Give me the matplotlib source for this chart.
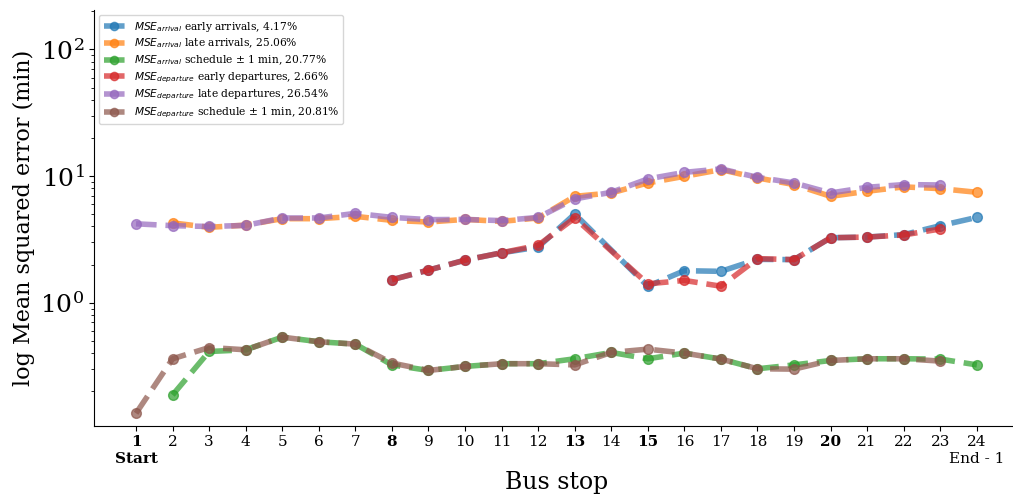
import numpy as np
import matplotlib
matplotlib.use('Agg')
import matplotlib.pyplot as plt

plt.rcParams['font.family'] = 'DejaVu Serif'

# ---------------- donnees ------------------------------------
stops_arr = list(range(2, 25))
stops_dep = list(range(1, 24))
stops_early_arr = [8, 9, 10, 11, 12, 13, 15, 16, 17, 18, 19, 20, 21, 22, 23, 24]
stops_early_dep = [8, 9, 10, 11, 12, 13, 15, 16, 17, 18, 19, 20, 21, 22, 23]

early_arr = [1.52, 1.81, 2.17, 2.48, 2.75, 5.02, 1.35, 1.79, 1.77, 2.2, 2.19, 3.26, 3.3, 3.45, 4.06, 4.72]
late_arr = [4.27, 3.94, 4.1, 4.61, 4.61, 4.81, 4.47, 4.34, 4.55, 4.39, 4.67, 6.92,
            7.36, 8.83, 9.96, 11.25, 9.67, 8.57, 6.92, 7.59, 8.22, 7.96, 7.45]
sched_arr = [0.187, 0.412, 0.425, 0.535, 0.492, 0.471, 0.323, 0.292, 0.314, 0.33, 0.33, 0.361,
             0.405, 0.361, 0.40, 0.359, 0.301, 0.323, 0.35, 0.361, 0.361, 0.359, 0.323]
early_dep = [1.52, 1.81, 2.17, 2.48, 2.84, 4.67, 1.41, 1.5, 1.35, 2.23, 2.19, 3.26, 3.3, 3.43, 3.82]
late_dep = [4.2, 4.06, 4.0, 4.08, 4.67, 4.67, 5.08, 4.72, 4.53, 4.55, 4.45, 4.72,
            6.6, 7.45, 9.5, 10.7, 11.4, 9.78, 8.83, 7.36, 8.16, 8.57, 8.51]
sched_dep = [0.134, 0.361, 0.443, 0.425, 0.535, 0.492, 0.471, 0.334, 0.292, 0.314, 0.33, 0.33,
             0.323, 0.405, 0.43, 0.40, 0.359, 0.301, 0.299, 0.35, 0.361, 0.361, 0.346]

labels = [r'$MSE_{arrival}$ early arrivals, 4.17%',
          r'$MSE_{arrival}$ late arrivals, 25.06%',
          r'$MSE_{arrival}$ schedule $\pm$ 1 min, 20.77%',
          r'$MSE_{departure}$ early departures, 2.66%',
          r'$MSE_{departure}$ late departures, 26.54%',
          r'$MSE_{departure}$ schedule $\pm$ 1 min, 20.81%']

tick_pos = list(range(1, 25))
tick_lab = [str(i) for i in tick_pos]
tick_lab[0] = '1\nStart'
tick_lab[-1] = '24\nEnd - 1'
bold_stops = [1, 8, 13, 15, 20]

fig = plt.figure(figsize=(10.13, 4.99), dpi=100)
ax = fig.add_axes([0.0928, 0.147, 0.913, 0.833])

series = [(stops_early_arr, early_arr), (stops_arr, late_arr), (stops_arr, sched_arr),
          (stops_early_dep, early_dep), (stops_dep, late_dep), (stops_dep, sched_dep)]
for (x, y), lab in zip(series, labels):
    ax.plot(x, y, '--o', lw=4, ms=7, alpha=0.7, label=lab)

ax.set_yscale('log')
ax.set_xlim(-0.15, 25.15)
ax.set_ylim(0.107, 205)
ax.set_xticks(tick_pos)
ax.set_xticklabels(tick_lab, fontsize=11)
for t, s in zip(ax.get_xticklabels(), tick_pos):
    if s in bold_stops:
        t.set_fontweight('bold')
ax.tick_params(axis='y', labelsize=18)
ax.set_xlabel('Bus stop', fontsize=17)
ax.set_ylabel('log Mean squared error (min)', fontsize=16)
ax.spines['top'].set_visible(False)
ax.spines['right'].set_visible(False)
ax.legend(loc='upper left', fontsize=7.7, labelspacing=0.3, markerscale=0.85)

plt.savefig('out.png', dpi=100)
